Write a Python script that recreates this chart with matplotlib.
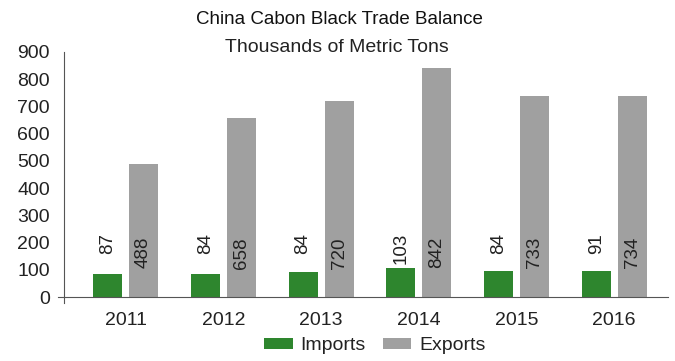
import matplotlib
matplotlib.use("Agg")
import matplotlib.pyplot as plt
import numpy as np

years = ["2011", "2012", "2013", "2014", "2015", "2016"]
imports = [85, 85, 92, 106, 96, 96]
exports = [488, 658, 720, 842, 738, 738]
import_labels = ["87", "84", "84", "103", "84", "91"]
export_labels = ["488", "658", "720", "842", "733", "734"]
yticks = [0, 100, 200, 300, 400, 500, 600, 700, 800, 900]

plt.rcParams['font.family'] = ['Liberation Sans', 'DejaVu Sans']

fig = plt.figure(figsize=(6.75, 3.61), dpi=100)
ax = fig.add_axes([64/675, 64/361, (668-64)/675, (297-52)/361])

x = np.arange(len(years))
w = 0.297
off = 0.184
green = "#2e862e"
gray = "#a0a0a0"
ax.bar(x - off, imports, w, color=green, label="Imports")
ax.bar(x + off, exports, w, color=gray, label="Exports")

for i in range(len(years)):
    ax.text(x[i] - off, 236, import_labels[i], rotation=90, ha='center', va='top',
            fontsize=13.5, color="#222222")
    ax.text(x[i] + off, 220, export_labels[i], rotation=90, ha='center', va='top',
            fontsize=13.5, color="#222222")

ax.set_xlim(-0.63, 5.55)
ax.set_ylim(0, 900)
ax.set_yticks(yticks)
ax.set_yticklabels([str(t) for t in yticks], fontsize=14, color="#222222")
ax.set_xticks(x)
ax.set_xticklabels(years, fontsize=14, color="#222222")
ax.tick_params(axis='both', length=0)
ax.tick_params(axis='x', pad=11)
ax.tick_params(axis='y', pad=10)
for s in ['top', 'right']:
    ax.spines[s].set_visible(False)
ax.spines['left'].set_color("#555555")
ax.spines['bottom'].set_color("#555555")
# small axis-corner ticks
ax.plot([-0.01, 0], [0, 0], transform=ax.transAxes, color="#555555", lw=0.8, clip_on=False)
ax.plot([0, 0], [-0.025, 0], transform=ax.transAxes, color="#555555", lw=0.8, clip_on=False)

fig.text(339/675, 1 - 19/361, "China Cabon Black Trade Balance", ha='center', va='center',
         fontsize=13.5, color="#111111")
fig.text(337/675, 1 - 48/361, "Thousands of Metric Tons", ha='center', va='center',
         fontsize=14, color="#222222")

fig.legend(loc='center', bbox_to_anchor=(375/675, 1 - 346/361), ncol=2, frameon=False,
           fontsize=14, handlelength=1.45, handleheight=0.5, columnspacing=0.9,
           handletextpad=0.4, labelcolor="#222222")

fig.savefig("out.png", dpi=100)
